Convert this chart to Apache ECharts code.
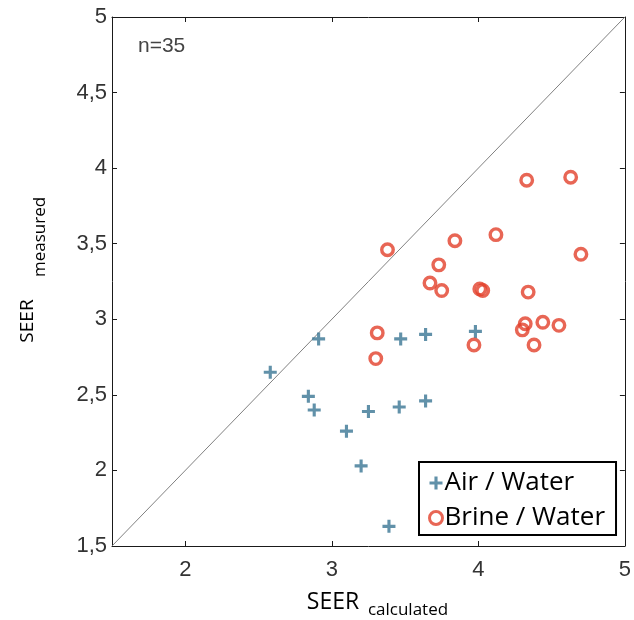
<!DOCTYPE html>
<html>
<head>
<meta charset="utf-8">
<script src="https://cdn.jsdelivr.net/npm/echarts@6/dist/echarts.min.js"></script>
<style>
html,body{margin:0;padding:0;background:#fff;}
#chart{width:634px;height:620px;}
</style>
</head>
<body>
<div id="chart"></div>
<script>
// ---- data ----
const airX = [2.58, 2.91, 2.84, 2.88, 3.10, 3.20, 3.25, 3.39, 3.46, 3.47, 3.64, 3.64, 3.98];
const airY = [2.65, 2.87, 2.49, 2.40, 2.26, 2.03, 2.39, 1.63, 2.42, 2.87, 2.90, 2.46, 2.92];
const brineX = [3.31, 3.30, 3.67, 3.75, 4.01, 4.03, 3.97, 4.34, 4.32, 4.30, 4.44, 4.55, 4.38, 3.38, 3.73, 3.84, 4.12, 4.33, 4.63, 4.70];
const brineY = [2.91, 2.74, 3.24, 3.19, 3.20, 3.19, 2.83, 3.18, 2.97, 2.93, 2.98, 2.96, 2.83, 3.46, 3.36, 3.52, 3.56, 3.92, 3.94, 3.43];
const identityLine = [1.5, 5];
const xTickValues = [2, 3, 4, 5];
const yTickValues = [1.5, 2, 2.5, 3, 3.5, 4, 4.5, 5];
const yTickLabels = ['1,5', '2', '2,5', '3', '3,5', '4', '4,5', '5'];
const seriesNames = ['Air / Water', 'Brine / Water'];
const annotation = 'n=35';

const zip = (xs, ys) => xs.map((x, i) => [x, ys[i]]);
const plusPath = 'path://M3.8,0H6.2V3.8H10V6.2H6.2V10H3.8V6.2H0V3.8H3.8Z';
const axisColor = '#1a1a1a';
const labelFont = 'Liberation Sans, Arial, sans-serif';
const titleFont = 'Open Sans, sans-serif';
const airColor = '#3a7594';
const brineColor = '#e2402a';

const chart = echarts.init(document.getElementById('chart'), null, {renderer: 'canvas'});

const baseAxis = {
  type: 'value', min: 1.5, max: 5, interval: 0.5,
  axisLine: {show: true, onZero: false, lineStyle: {color: axisColor, width: 1}},
  splitLine: {show: false}
};

chart.setOption({
  animation: false,
  backgroundColor: '#fff',
  grid: {left: 112, right: 7, top: 17, bottom: 74, containLabel: false},
  xAxis: [
    Object.assign({}, baseAxis, {
      position: 'bottom',
      axisTick: {show: true, inside: true, length: 5, customValues: xTickValues, lineStyle: {color: axisColor}},
      axisLabel: {show: true, customValues: xTickValues, fontSize: 22, fontFamily: labelFont, color: '#333', margin: 13}
    }),
    Object.assign({}, baseAxis, {
      position: 'top',
      axisTick: {show: true, inside: true, length: 5, customValues: xTickValues, lineStyle: {color: axisColor}},
      axisLabel: {show: false}
    })
  ],
  yAxis: [
    Object.assign({}, baseAxis, {
      position: 'left',
      axisTick: {show: true, inside: true, length: 5, lineStyle: {color: axisColor}},
      axisLabel: {
        show: true, fontSize: 22, fontFamily: labelFont, color: '#333', margin: 5,
        formatter: v => {
          const i = yTickValues.findIndex(t => Math.abs(t - v) < 1e-6);
          return i >= 0 ? yTickLabels[i] : '';
        }
      }
    }),
    Object.assign({}, baseAxis, {
      position: 'right',
      axisTick: {show: true, inside: true, length: 5, lineStyle: {color: axisColor}},
      axisLabel: {show: false}
    })
  ],
  legend: {
    data: [
      {name: seriesNames[0], icon: plusPath, itemStyle: {color: airColor}},
      {name: seriesNames[1], icon: 'circle', itemStyle: {color: 'rgba(255,255,255,0)', borderColor: brineColor, borderWidth: 3}}
    ],
    orient: 'vertical',
    left: 419, top: 462,
    padding: [6, 11, 2, 9],
    itemGap: 5,
    itemWidth: 13, itemHeight: 13,
    borderColor: '#000', borderWidth: 2,
    backgroundColor: '#fff',
    textStyle: {fontSize: 26, fontFamily: titleFont, color: '#000', lineHeight: 30, padding: [0, 0, 0, -3]},
    selectedMode: false
  },
  series: [
    {
      type: 'line', name: 'identity', silent: true,
      data: zip(identityLine, identityLine),
      symbol: 'none', lineStyle: {color: '#808080', width: 1}, z: 1
    },
    {
      type: 'scatter', name: seriesNames[0],
      data: zip(airX, airY),
      symbol: plusPath, symbolSize: 13,
      itemStyle: {color: airColor}, z: 3
    },
    {
      type: 'scatter', name: seriesNames[1],
      data: zip(brineX, brineY),
      symbol: 'circle', symbolSize: 11.5,
      itemStyle: {color: 'rgba(255,255,255,0)', borderColor: brineColor, borderWidth: 3.4}, z: 3
    }
  ],
  graphic: [
    {type: 'text', left: 138, top: 36, style: {text: annotation, fontSize: 21, fontFamily: labelFont, fill: '#444'}},
    {type: 'text', x: 333, y: 602, style: {text: 'SEER', fontSize: 23, fontFamily: titleFont, fill: '#000', align: 'center', verticalAlign: 'middle'}},
    {type: 'text', x: 408, y: 610, style: {text: 'calculated', fontSize: 17, fontFamily: titleFont, fill: '#000', align: 'center', verticalAlign: 'middle'}},
    {type: 'text', x: 28, y: 321, rotation: Math.PI / 2, style: {text: 'SEER', fontSize: 19, fontFamily: titleFont, fill: '#000', align: 'center', verticalAlign: 'middle'}},
    {type: 'text', x: 40, y: 237, rotation: Math.PI / 2, style: {text: 'measured', fontSize: 17, fontFamily: titleFont, fill: '#000', align: 'center', verticalAlign: 'middle'}}
  ]
});
</script>
</body>
</html>
